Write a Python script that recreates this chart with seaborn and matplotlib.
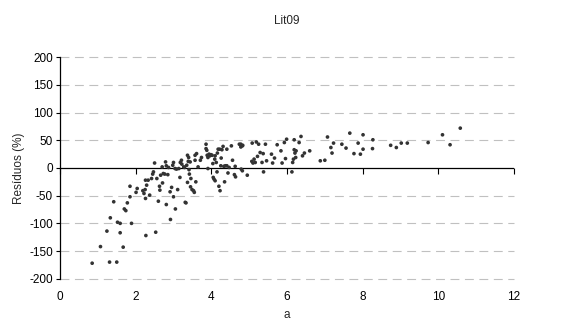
import numpy as np
import pandas as pd
import seaborn as sns
import matplotlib.pyplot as plt

# values
a = [0.85, 1.07, 1.24, 1.33, 1.31, 1.42, 1.50, 1.52, 1.59, 1.59, 1.67, 1.70, 1.74, 1.78, 1.85,
     1.85, 1.89, 2.01, 2.04, 2.19, 2.22, 2.25, 2.26, 2.29, 2.26, 2.27, 2.33, 2.37, 2.42, 2.45,
     2.47, 2.50, 2.53, 2.56, 2.60, 2.63, 2.64, 2.66, 2.70, 2.71, 2.73, 2.77, 2.79, 2.81, 2.81,
     2.85, 2.87, 2.91, 2.92, 2.95, 2.98, 3.00, 3.00, 3.04, 3.05, 3.08, 3.11, 3.14, 3.17, 3.18,
     3.21, 3.22, 3.27, 3.29, 3.31, 3.33, 3.35, 3.37, 3.37, 3.39, 3.40, 3.41, 3.42, 3.44, 3.45,
     3.46, 3.49, 3.53, 3.55, 3.57, 3.57, 3.59, 3.61, 3.65, 3.71, 3.74, 3.86, 3.86, 3.88, 3.89,
     3.91, 3.91, 3.94, 3.96, 3.99, 4.02, 4.04, 4.05, 4.07, 4.10, 4.09, 4.10, 4.13, 4.15, 4.16,
     4.18, 4.20, 4.22, 4.23, 4.25, 4.26, 4.28, 4.31, 4.33, 4.35, 4.37, 4.41, 4.41, 4.44, 4.47,
     4.53, 4.56, 4.61, 4.63, 4.64, 4.74, 4.78, 4.78, 4.79, 4.82, 4.82, 4.83, 4.95, 5.07, 5.08,
     5.10, 5.13, 5.16, 5.19, 5.22, 5.25, 5.29, 5.34, 5.37, 5.38, 5.43, 5.46, 5.59, 5.62, 5.67,
     5.74, 5.84, 5.87, 5.93, 5.96, 5.99, 6.13, 6.15, 6.17, 6.19, 6.19, 6.21, 6.24, 6.23, 6.32,
     6.37, 6.41, 6.46, 6.60, 6.88, 7.00, 7.07, 7.16, 7.19, 7.23, 7.45, 7.56, 7.66, 7.77, 7.88,
     7.94, 8.01, 8.01, 8.26, 8.27, 8.74, 8.89, 9.02, 9.18, 9.73, 10.11, 10.31, 10.58]
residuos = [-172, -142, -114, -90, -170, -61, -170, -98, -100, -117, -143, -74, -77, -63, -33,
            -52, -100, -44, -37, -41, -46, -39, -22, -31, -55, -122, -22, -49, -19, -11,
            -7, 9, -116, -19, -60, -33, -40, -13, 2, -27, -10, -11, 11, 4, -66,
            -12, 1, -43, -93, -35, 5, 10, -52, -1, -74, -2, -39, -1, -17, 10,
            14, 7, 2, 1, -62, -63, 5, -26, 23, 12, 19, -3, -11, 11, -34,
            -19, -39, -41, -44, 23, 14, -25, 26, 2, 14, 19, 43, 35, 32, 23,
            -1, 19, 25, 22, 24, 23, 8, -17, -20, -23, 16, 22, 10, -7, 27,
            34, -33, 34, -41, 4, 18, 33, 39, 3, -25, 4, 34, 4, -9, 1,
            40, 14, -12, 3, -16, 43, 43, 38, -2, -5, 40, 41, -13, 12, 45,
            9, 16, 10, 47, 21, 43, 28, 10, 26, -7, 43, 13, 25, 9, 18,
            42, 31, 9, 46, 17, 52, -7, 10, 16, 33, 51, 27, 31, 19, 46,
            57, 22, 27, 31, 13, 14, 56, 37, 27, 45, 43, 36, 63, 26, 45,
            25, 60, 34, 35, 51, 41, 37, 45, 45, 46, 60, 42, 72]
x_ticks = [0, 2, 4, 6, 8, 10, 12]
y_ticks = [-200, -150, -100, -50, 0, 50, 100, 150, 200]

df = pd.DataFrame({'a': a, 'res': residuos})

sns.set_style('white')
plt.rcParams['font.family'] = ['Liberation Sans', 'DejaVu Sans']
plt.rcParams['font.size'] = 8
plt.rcParams['axes.unicode_minus'] = False

fig = plt.figure(figsize=(5.73, 3.27), dpi=100)
ax = fig.add_axes([60 / 573, 1 - 278.7 / 327, (514 - 60) / 573, (278.7 - 57.3) / 327])

sns.scatterplot(data=df, x='a', y='res', ax=ax, color='#333333', s=7,
                edgecolor='none', zorder=3, legend=False)

ax.set_xlim(0, 12)
ax.set_ylim(-200, 200)
ax.set_xticks(x_ticks)
ax.set_yticks(y_ticks)
for yv in y_ticks:
    if yv != 0:
        ax.axhline(yv, color='#c0c0c0', lw=0.8, dashes=(8, 5), zorder=1, clip_on=False)
# x axis line at y=0
ax.axhline(0, color='black', lw=0.9, zorder=2)

# tick marks on the y=0 line, tick labels stay at the bottom
sec = ax.secondary_xaxis(0.5)
sec.set_xticks(x_ticks)
sec.xaxis.set_ticks_position('bottom')
sec.tick_params(axis='x', direction='out', length=4, width=0.8, color='black',
                labelbottom=False, labeltop=False)
for side in ['top', 'left', 'right', 'bottom']:
    sec.spines[side].set_visible(False)

for side in ['top', 'right', 'bottom']:
    ax.spines[side].set_visible(False)
ax.spines['left'].set_color('black')
ax.spines['left'].set_linewidth(0.9)
ax.tick_params(axis='x', length=0, pad=9, labelsize=8.5, colors='black')
ax.tick_params(axis='y', left=True, direction='out', length=3, width=0.8, pad=2,
               labelsize=8.5, colors='black')

ax.set_xlabel('a', fontsize=8.5, labelpad=4)
ax.set_ylabel('Resíduos (%)', fontsize=8.5, labelpad=3)
fig.text(0.5, 1 - 21 / 327, 'Lit09', ha='center', va='center', fontsize=8.5)

fig.savefig('out.png', dpi=100, facecolor='white')
